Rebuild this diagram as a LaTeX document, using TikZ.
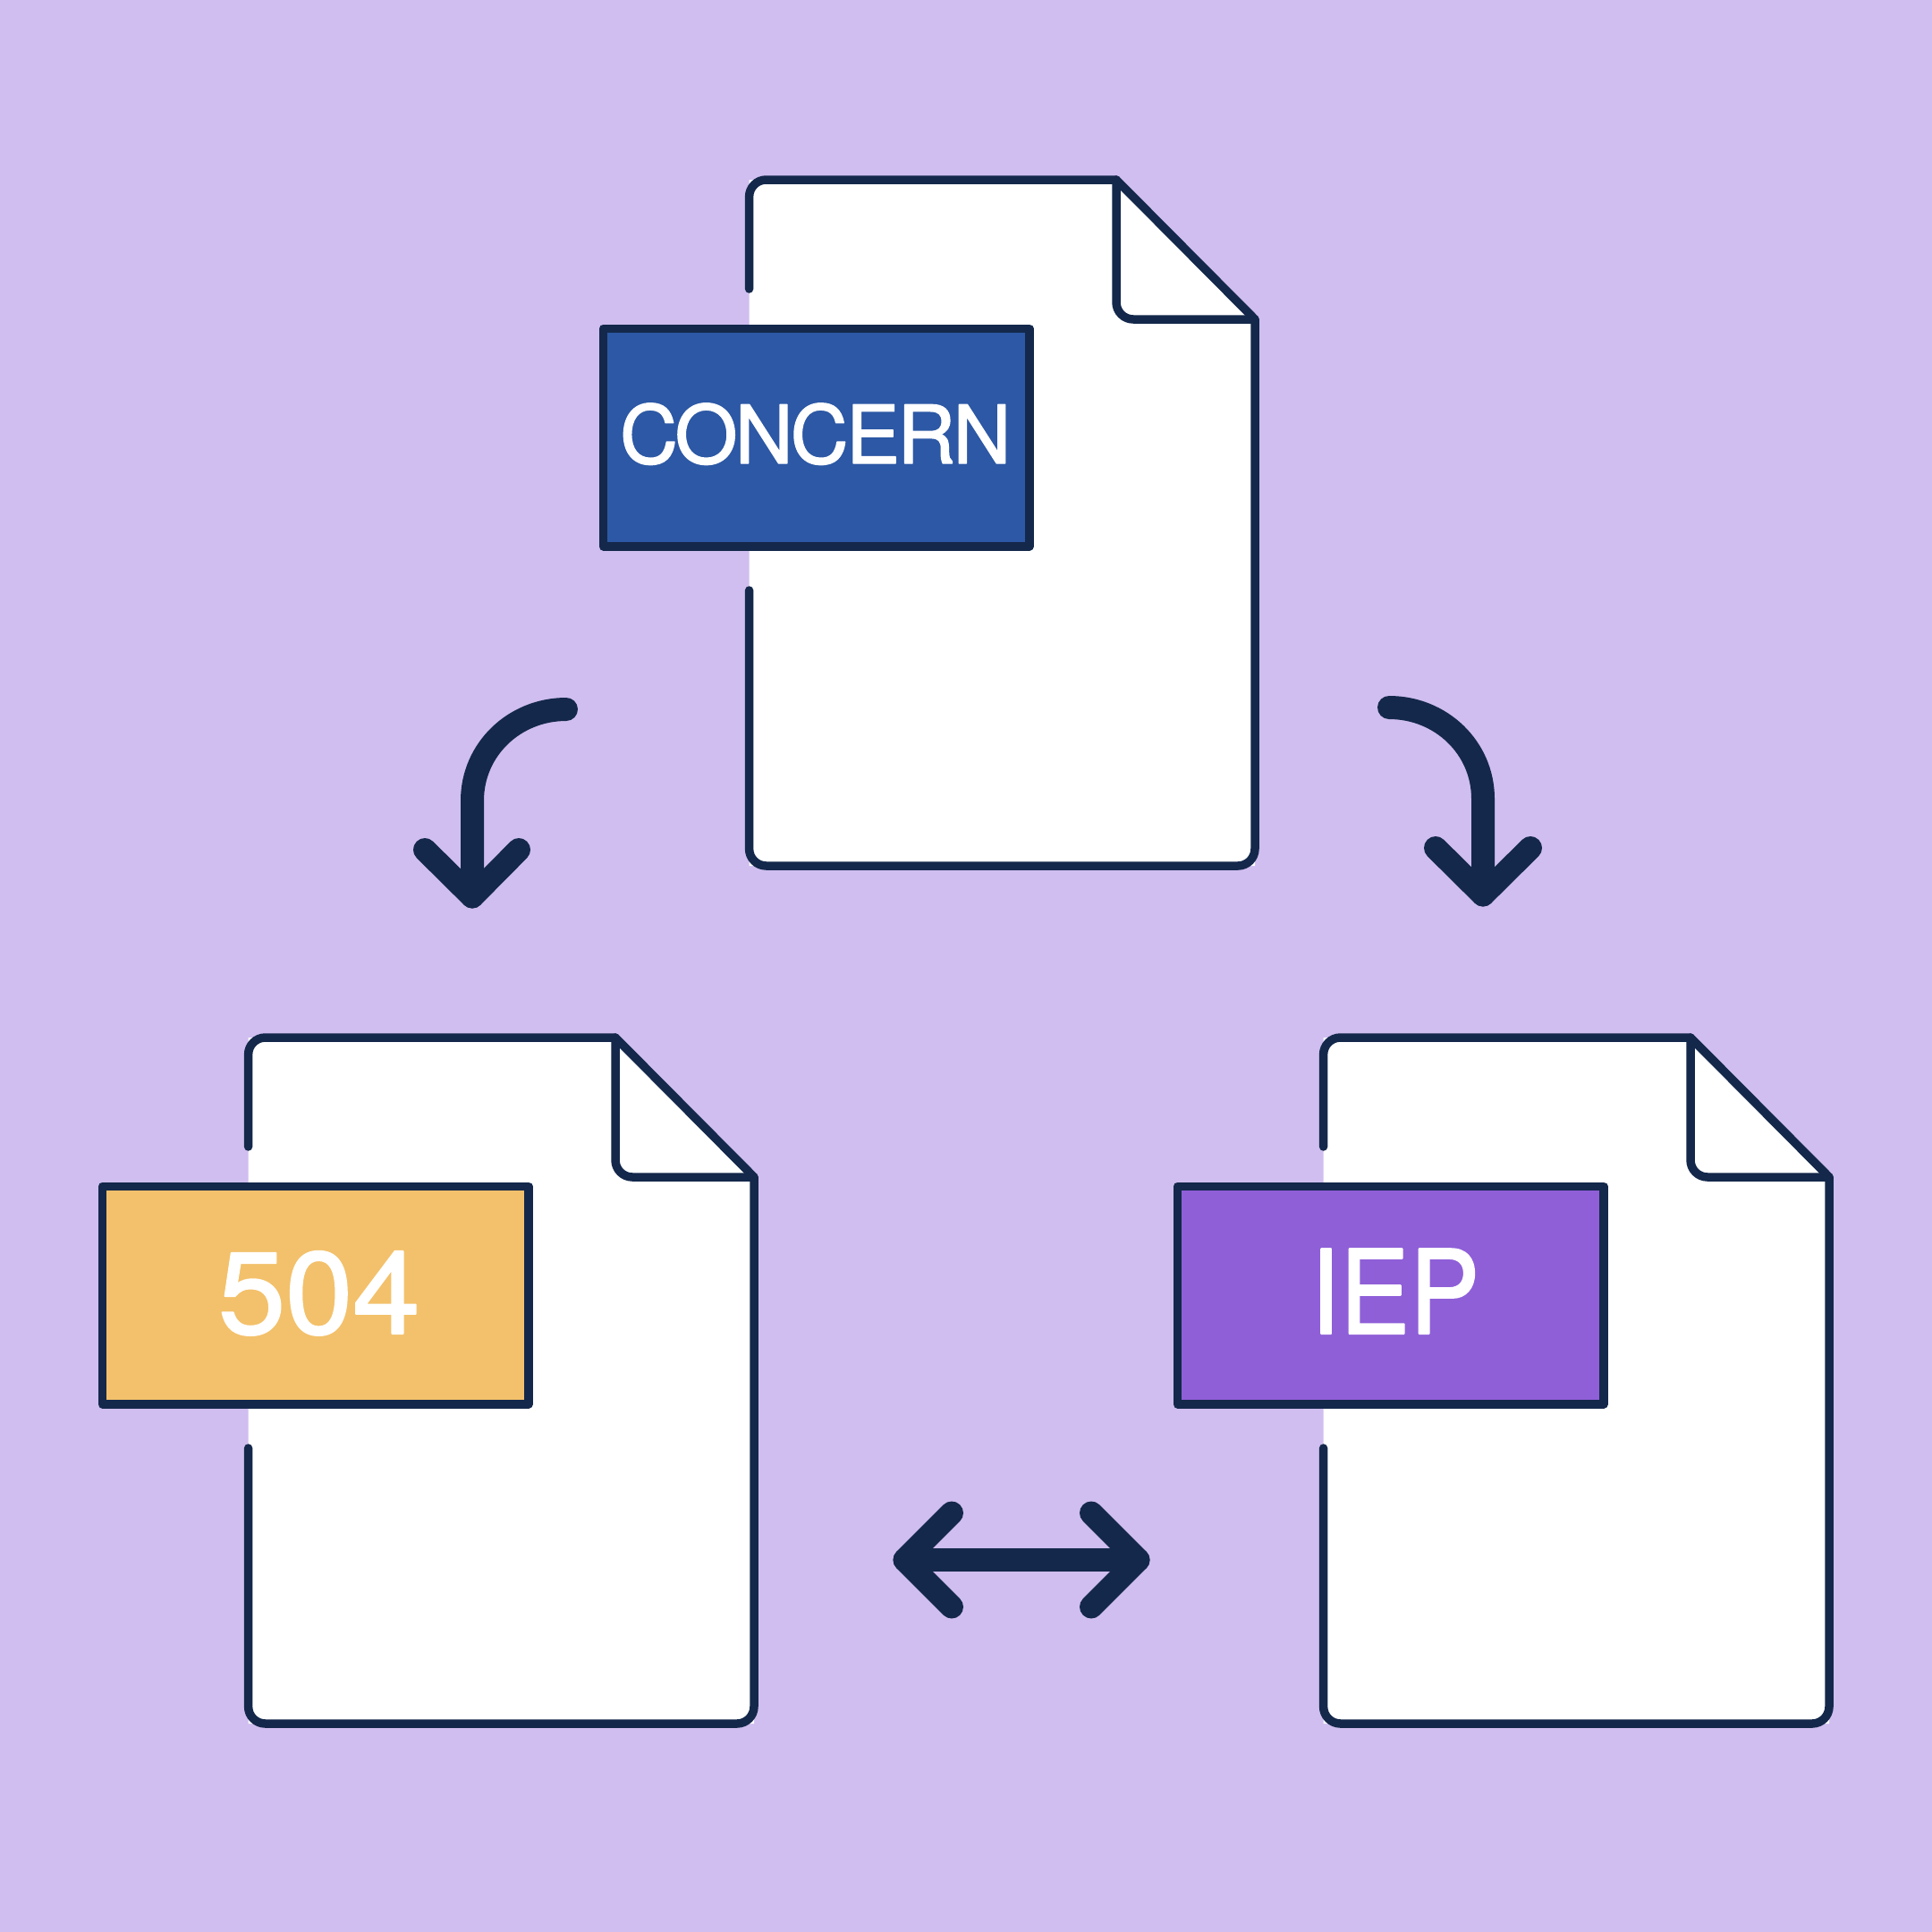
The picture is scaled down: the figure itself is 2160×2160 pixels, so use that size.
\documentclass[tikz,border=0pt]{standalone}
\usepackage{fontspec}
\usepackage{graphicx}
\usepackage{tikz}
\setmainfont[FakeBold=1.6]{TeX Gyre Heros}
\definecolor{bglilac}{HTML}{CFBEEF}
\definecolor{inknavy}{HTML}{14284B}
\definecolor{tagblue}{HTML}{2C58A5}
\definecolor{tagorange}{HTML}{F3C16B}
\definecolor{tagpurple}{HTML}{8F5FD8}
\tikzset{
  docline/.style={draw=inknavy,line width=9.5pt,line cap=round,line join=round},
  tagbox/.style={draw=inknavy,line width=9.5pt,line join=round,text=white,inner sep=0pt,
    minimum width=476.5pt,minimum height=243.5pt},
  flowline/.style={draw=inknavy,line width=26pt,line cap=round,line join=round}
}

\begin{document}
\begin{tikzpicture}[x=1pt,y=-1pt]
      \fill [bglilac] (0,0) rectangle (2160,2160);
      \useasboundingbox (0,0) rectangle (2160,2160);

      % the three documents
      \foreach \dx/\dy/\nm/\col/\fsize/\lift/\lbl in {
        0/0/concern/tagblue/90/58/{\addfontfeature{LetterSpace=-3}\hspace*{-2pt}CONCERN},
        -560/959/fivezerofour/tagorange/130/86/{\hspace*{8pt}\scalebox{1.04}[1]{504}},
        642/959/iep/tagpurple/130/86/{\hspace*{10pt}\scalebox{.9}[1]{IEP}}} {
        \begin{scope}[shift={(\dx,\dy)}]
          \fill [white] (837.6,660) -- (837.6,968) -- (1403,968) -- (1403,357) -- (1248,201) -- (837.6,201) -- cycle;
          \draw [docline] (837.6,323) [rounded corners=19pt] -- (837.6,201) [sharp corners] -- (1248,201)
            -- (1403,357) [rounded corners=19pt] -- (1403,968) -- (837.6,968) [sharp corners] -- (837.6,660);
          \draw [docline] (1248,201) [rounded corners=19pt] -- (1248,357) [sharp corners] -- (1403,357);
          \node [tagbox,fill=\col,text height=\lift pt,text depth=0pt,
            font=\fontsize{\fsize}{\fsize}\selectfont] (\nm) at (912.75,489) {\lbl};
        \end{scope}
      }

      % curved arrow to the left
      \coordinate (leftstart) at (633,793);
      \coordinate (leftbend) at (528,895);
      \coordinate (lefttip) at (528,1002.5);
      \coordinate (leftarma) at (475,950);
      \coordinate (leftarmb) at (580,950);
      \draw [flowline] (leftstart) .. controls (575,793) and (528,838) .. (leftbend) -- (lefttip);
      \draw [flowline] (leftarma) -- (lefttip) -- (leftarmb);

      % curved arrow to the right
      \coordinate (rightstart) at (1553,791);
      \coordinate (rightbend) at (1658,893);
      \coordinate (righttip) at (1658,1000.5);
      \coordinate (rightarma) at (1605,948);
      \coordinate (rightarmb) at (1711,948);
      \draw [flowline] (rightstart) .. controls (1611,791) and (1658,836) .. (rightbend) -- (righttip);
      \draw [flowline] (rightarma) -- (righttip) -- (rightarmb);

      % double arrow between the lower documents
      \coordinate (pairleft) at (1011.5,1744);
      \coordinate (pairright) at (1272.5,1744);
      \draw [flowline] (pairleft) -- (pairright);
      \draw [flowline] (1064,1691.5) -- (pairleft) -- (1064,1796.5);
      \draw [flowline] (1220,1691.5) -- (pairright) -- (1220,1796.5);
    \end{tikzpicture}
\end{document}
